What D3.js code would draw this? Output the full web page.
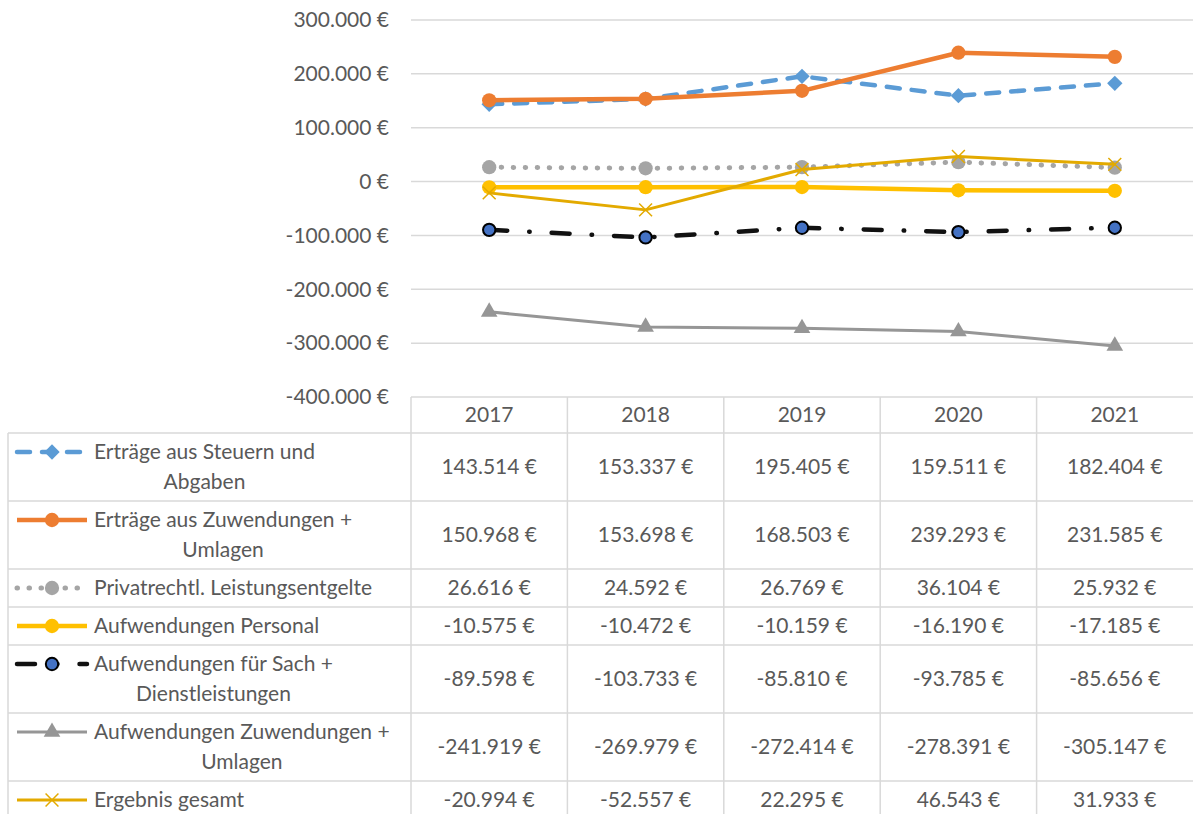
<!DOCTYPE html>
<html>
<head>
<meta charset="utf-8">
<script src="https://cdn.jsdelivr.net/npm/d3@7"></script>
<style>
  body { margin: 0; background: #fff; }
  text { font-family: Lato, "Open Sans", sans-serif; fill: #595959; }
</style>
</head>
<body>
<div id="chart"></div>
<script>
// data
var years = ["2017", "2018", "2019", "2020", "2021"];
var yTicks = [300000, 200000, 100000, 0, -100000, -200000, -300000, -400000];

var steuern = [143514, 153337, 195405, 159511, 182404];
var zuwendungen = [150968, 153698, 168503, 239293, 231585];
var privat = [26616, 24592, 26769, 36104, 25932];
var personal = [-10575, -10472, -10159, -16190, -17185];
var sach = [-89598, -103733, -85810, -93785, -85656];
var aufwZuw = [-241919, -269979, -272414, -278391, -305147];
var ergebnis = [-20994, -52557, 22295, 46543, 31933];

var seriesNames = [
  ["Erträge aus Steuern und", "Abgaben"],
  ["Erträge aus Zuwendungen +", "Umlagen"],
  ["Privatrechtl. Leistungsentgelte"],
  ["Aufwendungen Personal"],
  ["Aufwendungen für Sach +", "Dienstleistungen"],
  ["Aufwendungen Zuwendungen +", "Umlagen"],
  ["Ergebnis gesamt"]
];
var seriesValues = [steuern, zuwendungen, privat, personal, sach, aufwZuw, ergebnis];

// look of each series (Excel style)
var styles = [
  {color: "#5B9BD5", width: 4.5, dash: "13,12", marker: "diamond", fill: "#5B9BD5"},
  {color: "#ED7D31", width: 4.5, dash: null, marker: "circle", fill: "#ED7D31"},
  {color: "#A5A5A5", width: 5, dash: "0.5,11.5", marker: "circle", fill: "#A5A5A5"},
  {color: "#FFC000", width: 4.5, dash: null, marker: "circle", fill: "#FFC000"},
  {color: "#111111", width: 4.5, dash: "18,22,0.5,22", marker: "circleOutline", fill: "#4472C4"},
  {color: "#969696", width: 3, dash: null, marker: "triangle", fill: "#969696"},
  {color: "#E3AA00", width: 3, dash: null, marker: "x", fill: "none"}
];

var W = 1193, H = 814;
var plotLeft = 411, plotRight = 1193, plotTop = 20, plotBottom = 397;
var tableLeft = 8, headerH = 36, lineH = 30;
var fontSize = 21;

var loc = d3.formatLocale({decimal: ",", thousands: ".", grouping: [3], currency: ["", " €"], minus: "-"});
var fmt = loc.format("$,.0f");

var svg = d3.select("#chart").append("svg")
  .attr("width", W).attr("height", H);

var x = d3.scaleBand().domain(years).range([plotLeft, plotRight]);
var y = d3.scaleLinear().domain([-400000, 300000]).range([plotBottom, plotTop]);

// gridlines
svg.append("g").selectAll("line")
  .data(yTicks.filter(function(d){ return d > -400000; }))
  .enter().append("line")
  .attr("x1", plotLeft).attr("x2", plotRight)
  .attr("y1", function(d){ return y(d); }).attr("y2", function(d){ return y(d); })
  .attr("stroke", "#D9D9D9").attr("stroke-width", 1.5);

// y labels
svg.append("g").selectAll("text")
  .data(yTicks).enter().append("text")
  .attr("x", 389).attr("y", function(d){ return y(d); })
  .attr("dy", "0.35em").attr("text-anchor", "end")
  .style("font-size", fontSize + "px")
  .text(function(d){ return fmt(d); });

function markerPath(type) {
  if (type === "diamond") return d3.symbol(d3.symbolDiamond2, 150)();
  if (type === "triangle") return d3.symbol(d3.symbolTriangle, 120)();
  if (type === "x") return d3.symbol(d3.symbolX, 110)();
  return d3.symbol(d3.symbolCircle, type === "circleOutline" ? 120 : 160)();
}

function drawMarker(g, st, cx, cy) {
  var p = g.append("path").attr("d", markerPath(st.marker))
    .attr("transform", "translate(" + cx + "," + cy + ")");
  if (st.marker === "x") {
    p.attr("fill", "none").attr("stroke", st.color).attr("stroke-width", 1.5);
  } else if (st.marker === "circleOutline") {
    p.attr("fill", st.fill).attr("stroke", "#000").attr("stroke-width", 2);
  } else {
    p.attr("fill", st.fill);
  }
}

var line = d3.line()
  .x(function(d, i){ return x(years[i]) + x.bandwidth() / 2; })
  .y(function(d){ return y(d); });

// series lines and markers
seriesValues.forEach(function(vals, si) {
  var st = styles[si];
  var g = svg.append("g");
  g.append("path").datum(vals).attr("d", line)
    .attr("fill", "none").attr("stroke", st.color)
    .attr("stroke-width", st.width)
    .attr("stroke-linecap", st.dash ? "round" : "butt")
    .attr("stroke-linejoin", "round")
    .attr("stroke-dasharray", st.dash);
  vals.forEach(function(v, i) {
    drawMarker(g, st, x(years[i]) + x.bandwidth() / 2, y(v));
  });
});

// data table
var table = svg.append("g");
var rowTops = [];
var rowY = plotBottom + headerH;
seriesNames.forEach(function(n) {
  rowTops.push(rowY);
  rowY += n.length === 2 ? 68 : 38;
});
var tableBottom = rowY;
var gridColor = "#D9D9D9";

// header
table.append("line").attr("x1", plotLeft).attr("x2", plotRight)
  .attr("y1", plotBottom).attr("y2", plotBottom)
  .attr("stroke", gridColor).attr("stroke-width", 1.5);
years.forEach(function(yr) {
  table.append("text")
    .attr("x", x(yr) + x.bandwidth() / 2).attr("y", plotBottom + headerH / 2)
    .attr("dy", "0.35em").attr("text-anchor", "middle")
    .style("font-size", fontSize + "px").text(yr);
});

// vertical column lines
years.forEach(function(yr) {
  table.append("line").attr("x1", x(yr)).attr("x2", x(yr))
    .attr("y1", plotBottom).attr("y2", tableBottom)
    .attr("stroke", gridColor).attr("stroke-width", 1.5);
});
table.append("line").attr("x1", tableLeft).attr("x2", tableLeft)
  .attr("y1", plotBottom + headerH).attr("y2", tableBottom)
  .attr("stroke", gridColor).attr("stroke-width", 1.5);

// rows
seriesNames.forEach(function(lines, si) {
  var rt = rowTops[si];
  var rh = lines.length === 2 ? 68 : 38;
  var st = styles[si];
  table.append("line").attr("x1", tableLeft).attr("x2", plotRight)
    .attr("y1", rt).attr("y2", rt)
    .attr("stroke", gridColor).attr("stroke-width", 1.5);

  var ky = rt + 19;
  // legend key
  var kg = table.append("g");
  kg.append("line").attr("x1", 17).attr("x2", 87).attr("y1", ky).attr("y2", ky)
    .attr("stroke", st.color).attr("stroke-width", st.width)
    .attr("stroke-linecap", st.dash ? "round" : "butt")
    .attr("stroke-dasharray", st.dash);
  drawMarker(kg, st, 52, ky);

  // label, lines centred on each other
  var tg = table.append("g");
  var texts = lines.map(function(l, li) {
    return tg.append("text").attr("y", ky + li * lineH).attr("dy", "0.35em")
      .attr("text-anchor", "middle").style("font-size", fontSize + "px").text(l);
  });
  var maxW = d3.max(texts, function(t){ return t.node().getComputedTextLength(); });
  texts.forEach(function(t){ t.attr("x", 94 + maxW / 2); });

  // values
  seriesValues[si].forEach(function(v, i) {
    table.append("text")
      .attr("x", x(years[i]) + x.bandwidth() / 2).attr("y", rt + rh / 2)
      .attr("dy", "0.35em").attr("text-anchor", "middle")
      .style("font-size", fontSize + "px").text(fmt(v));
  });
});
table.append("line").attr("x1", tableLeft).attr("x2", plotRight)
  .attr("y1", tableBottom).attr("y2", tableBottom)
  .attr("stroke", gridColor).attr("stroke-width", 1.5);
</script>
</body>
</html>
